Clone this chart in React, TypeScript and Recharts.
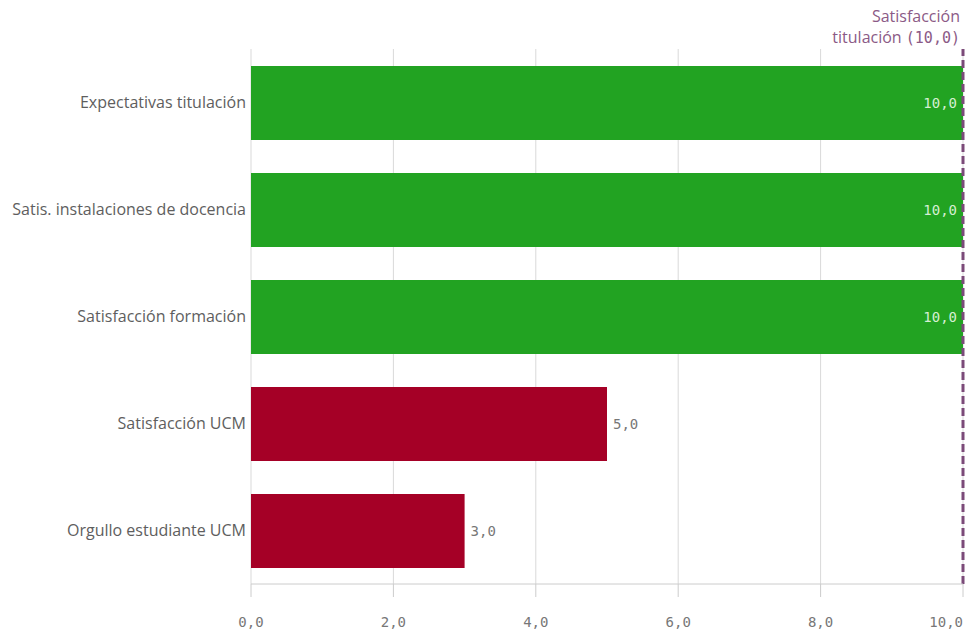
import { BarChart, Bar, XAxis, YAxis, CartesianGrid, ReferenceLine, LabelList, Cell } from 'recharts';

const categories = [
  'Expectativas titulación',
  'Satis. instalaciones de docencia',
  'Satisfacción formación',
  'Satisfacción UCM',
  'Orgullo estudiante UCM',
];
const values = [10, 10, 10, 5, 3];
const xTicks = [0, 2, 4, 6, 8, 10];
const targetLines = ['Satisfacción', 'titulación'];
const targetValue = 10;

const GREEN = '#22a322';
const RED = '#a50026';
const MONO = '"DejaVu Sans Mono", monospace';
const SANS = '"Open Sans", "Noto Sans", sans-serif';

const fmt = (v: number) => v.toFixed(1).replace('.', ',');

const data = categories.map((name, i) => ({ name, value: values[i] }));

function XTick(props: any) {
  const { x, y, payload, index } = props;
  const last = index === xTicks.length - 1;
  return (
    <text x={x} y={y} dy="0.71em" textAnchor={last ? 'end' : 'middle'} fill="#777" fontSize={14} fontFamily={MONO}>
      {fmt(payload.value)}
    </text>
  );
}

function ValueLabel(props: any) {
  const { x, y, width, height, value } = props;
  const inside = value >= targetValue;
  const cy = y + height / 2;
  return inside ? (
    <text x={x + width - 6} y={cy} dy="0.35em" textAnchor="end" fill="#d6efd3" fontSize={14} fontFamily={MONO}>
      {fmt(value)}
    </text>
  ) : (
    <text x={x + width + 6} y={cy} dy="0.35em" textAnchor="start" fill="#777" fontSize={14} fontFamily={MONO}>
      {fmt(value)}
    </text>
  );
}

function TargetLabel(props: any) {
  const { viewBox } = props;
  const x = viewBox.x - 3;
  return (
    <text x={x} textAnchor="end" fill="#8b5a86" fontSize={16} fontFamily={SANS}>
      <tspan x={x} y={22}>{targetLines[0]}</tspan>
      <tspan x={x} y={43}>
        {targetLines[1] + ' '}
        <tspan fontFamily={MONO} fontSize={15}>({fmt(targetValue)})</tspan>
      </tspan>
    </text>
  );
}

export default function App() {
  return (
    <div style={{ position: 'fixed', left: 0, top: 0, width: 980, height: 636, background: '#fff' }}>
      <BarChart
        width={980}
        height={636}
        data={data}
        layout="vertical"
        margin={{ top: 49, right: 17, left: 0, bottom: 0 }}
        barSize={74}
      >
        <CartesianGrid horizontal={false} stroke="#d9d9d9" />
        <XAxis
          type="number"
          domain={[0, 10]}
          ticks={xTicks}
          height={52}
          tickSize={13}
          tickMargin={20}
          axisLine={{ stroke: '#cccccc' }}
          tickLine={{ stroke: '#cccccc' }}
          tick={<XTick />}
          interval={0}
        />
        <YAxis
          type="category"
          dataKey="name"
          width={251}
          tickSize={0}
          tickMargin={5}
          axisLine={false}
          tick={{ fill: '#5e5e5e', fontSize: 16, fontFamily: SANS }}
        />
        <Bar dataKey="value" isAnimationActive={false}>
          {data.map((d) => (
            <Cell key={d.name} fill={d.value >= targetValue ? GREEN : RED} />
          ))}
          <LabelList dataKey="value" content={<ValueLabel />} />
        </Bar>
        <ReferenceLine
          x={targetValue}
          stroke="#7b4a79"
          strokeWidth={3}
          strokeDasharray="8 4"
          ifOverflow="visible"
          label={<TargetLabel />}
        />
      </BarChart>
    </div>
  );
}
